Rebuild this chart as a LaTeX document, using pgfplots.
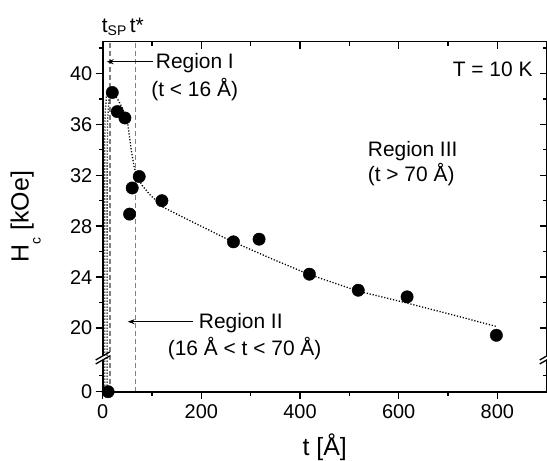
\documentclass[border=0pt]{standalone}
\usepackage{fontspec}
\setmainfont{Liberation Sans}
\usepackage{pgfplots}
\pgfplotsset{compat=1.18}
\usetikzlibrary{arrows.meta}
\newcommand\txt{\fontsize{20}{24}\selectfont}
\newcommand\ann{\fontsize{21}{25}\selectfont}
\begin{document}
\begin{tikzpicture}
\pgfplotsset{
  hcframe/.style={
    scale only axis, width=444bp, height=350bp,
    xmin=0, xmax=900, ymin=15, ymax=42.49,
    xtick={0,200,400,600,800}, minor xtick={100,300,500,700},
    ytick={15,20,24,28,32,36,40},
    minor ytick={16.25,22,26,30,34,38,42},
    major tick length=7bp, minor tick length=4bp,
    every tick/.style={black, line width=1.4bp},
    axis line style={line width=1.6bp},
  }
}
\begin{axis}[
  hcframe,
  yticklabels={0,20,24,28,32,36,40},
  xtick pos=bottom, ytick pos=left,
  tick align=outside,
  tick label style={font=\txt},
  xticklabel style={yshift=-2bp},
  /pgf/number format/assume math mode=true,
  xlabel={t [Å]},
  ylabel={H\raisebox{-12bp}{\fontsize{14}{14}\selectfont c} [kOe]},
  label style={font=\fontsize{25}{30}\selectfont},
  xlabel style={at={([yshift=-56bp]axis description cs:0.5,0)}, anchor=center},
  ylabel style={at={([xshift=-77bp]axis description cs:0,0.5)}, anchor=center},
]
% t_SP and t* markers
\addplot[black!50, line width=1.4bp, dash pattern=on 5bp off 3bp] coordinates {(15,15) (15,42.49)};
\addplot[black!50, line width=1.4bp, dash pattern=on 5bp off 3bp] coordinates {(67,15) (67,42.49)};
% dotted guide curves
\addplot[black, line width=1.3bp, dash pattern=on 1.2bp off 1.8bp] coordinates {
(4,15) (4,34) (5,36.8) (7.5,38.2) (12,38.7) (19,38.5)
};
\addplot[black, line width=1.3bp, dash pattern=on 1.2bp off 1.8bp] coordinates {
(9,15) (9,33) (10,36.3) (12.5,37.9) (19,38.5)
};
\addplot[black, line width=1.3bp, dash pattern=on 1.2bp off 1.8bp] coordinates {
(19,38.5) (30,38.0) (41,37.2) (51,36.0) (57,34.2) (64,32.6) (71,31.8) (80,31.2)
(95,30.5) (122,29.5) (189,28.2) (257,26.9) (345,25.4) (419,24.2) (518,22.9)
(617,21.96) (715,20.98) (800,20.1)
};
% measured Hc
\addplot[only marks, mark=*, mark size=6.2bp, black] coordinates {
(11,15) (19.4,38.5) (29.5,37.0) (45,36.5) (54.5,28.95) (59.8,31.0) (74,31.9)
(120,30.0) (265,26.77) (317,26.98) (419,24.23) (518,22.97) (617,22.45) (798,19.43)
};
\coordinate (bl) at (axis cs:0,17.65);
\coordinate (br) at (axis cs:900,17.65);
\end{axis}
\begin{axis}[
  hcframe,
  xtick pos=top, ytick pos=right,
  tick align=inside,
  xticklabels={}, yticklabels={},
]
\end{axis}
% axis breaks
\foreach \b in {bl,br}{
  \fill[white] ([xshift=-2.5bp,yshift=-2bp]\b) rectangle ([xshift=2.5bp,yshift=2bp]\b);
  \draw[line width=1.3bp] ([xshift=-7bp,yshift=-6bp]\b) -- ([xshift=7bp,yshift=2bp]\b);
  \draw[line width=1.3bp] ([xshift=-7bp,yshift=-2bp]\b) -- ([xshift=7bp,yshift=6bp]\b);
}
% annotations
\begin{scope}[x=1bp, y=1bp]
\draw[line width=1bp, -{Stealth[length=7bp,width=5bp]}] (50,330) -- (4,330);
\node[font=\ann, anchor=base west, inner sep=0pt] at (53,323) {Region I};
\node[font=\ann, anchor=base, inner sep=0pt] at (92,295) {(t < 16 Å)};
\draw[line width=1bp, -{Stealth[length=7bp,width=5bp]}] (90,70) -- (25,70);
\node[font=\ann, anchor=base west, inner sep=0pt] at (96,63) {Region II};
\node[font=\ann, anchor=base west, inner sep=0pt] at (65,36) {(16 Å < t < 70 Å)};
\node[font=\ann, anchor=base, inner sep=0pt] at (310,235) {Region III};
\node[font=\ann, anchor=base, inner sep=0pt] at (308.5,210) {(t > 70 Å)};
\node[font=\ann, anchor=base east, inner sep=0pt] at (430,315) {T = 10 K};
\node[font=\ann, anchor=base west, inner sep=0pt] at (-1,359)
  {t\raisebox{-3bp}{\fontsize{14}{14}\selectfont SP}};
\node[font=\ann, anchor=base west, inner sep=0pt] at (27,359) {t*};
\end{scope}
\pgfresetboundingbox
\path (-102.7bp,-69.3bp) rectangle (444.3bp,391.7bp);
\end{tikzpicture}
\end{document}
